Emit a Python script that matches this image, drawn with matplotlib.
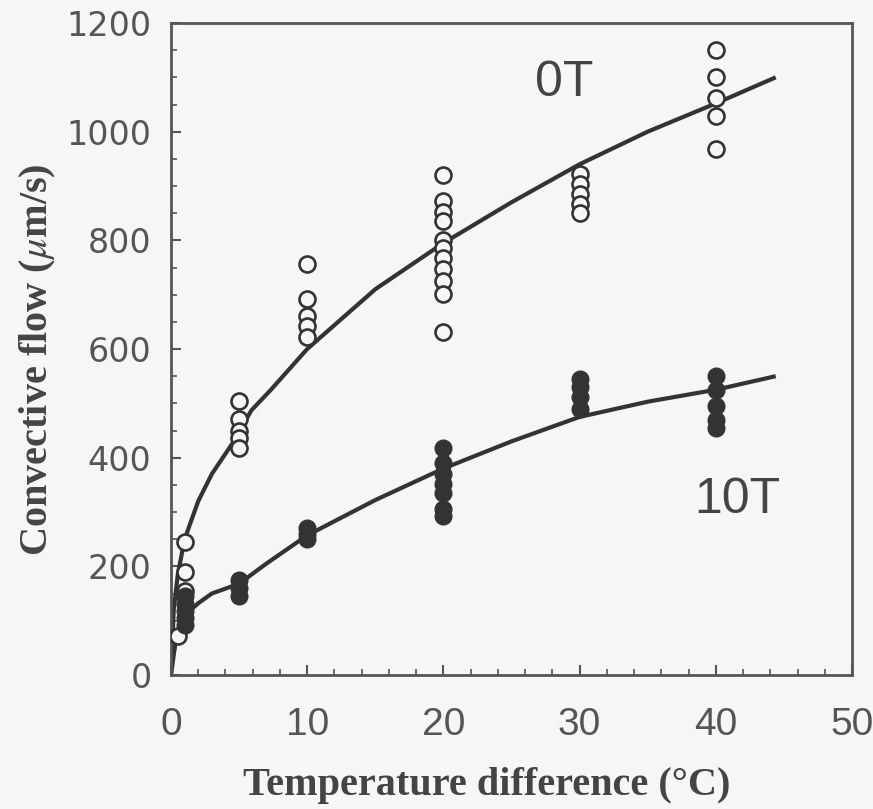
import numpy as np
import matplotlib
matplotlib.use('Agg')
import matplotlib.pyplot as plt
from matplotlib.ticker import MultipleLocator

plt.rcParams['mathtext.fontset'] = 'stix'

# measured points, 0 T (open circles)
x0T = [0.5, 1, 1, 1,
       5, 5, 5, 5, 5,
       10, 10, 10, 10, 10,
       20, 20, 20, 20, 20, 20, 20, 20, 20, 20, 20,
       30, 30, 30, 30, 30,
       40, 40, 40, 40, 40]
y0T = [72, 245, 190, 155,
       505, 472, 450, 436, 417,
       756, 692, 661, 642, 622,
       920, 872, 852, 835, 800, 785, 768, 748, 725, 702, 632,
       922, 903, 885, 867, 850,
       1150, 1100, 1062, 1028, 968]

# measured points, 10 T (filled circles)
x10T = [1, 1, 1, 1, 1,
        5, 5, 5,
        10, 10, 10,
        20, 20, 20, 20, 20, 20, 20,
        30, 30, 30, 30,
        40, 40, 40, 40, 40]
y10T = [145, 130, 118, 105, 92,
        175, 160, 145,
        270, 260, 250,
        418, 390, 370, 352, 335, 305, 292,
        545, 530, 512, 490,
        550, 525, 495, 470, 455]

# fitted curves
fit0T_x = [0, 0.2, 0.5, 1, 2, 3, 4.5, 5.9, 7.3, 10, 15, 20, 25, 30, 35, 40, 44.4]
fit0T_y = [0, 120, 185, 250, 320, 370, 426, 487, 524, 600, 710, 795, 870, 940, 1000, 1052, 1100]
fit10T_x = [0, 0.3, 1, 2, 3, 5, 7, 10, 15, 20, 25, 30, 35, 40, 44.4]
fit10T_y = [0, 55, 110, 132, 150, 168, 205, 257, 322, 380, 430, 475, 503, 525, 550]

bg = '#f6f6f4'
ink = '#333333'

fig = plt.figure(figsize=(8.73, 8.09), dpi=100, facecolor=bg)
ax = fig.add_axes([171/873, 1-675/809, (852-171)/873, (675-23)/809])
ax.set_facecolor(bg)

ax.plot(fit0T_x, fit0T_y, color=ink, lw=3, solid_capstyle='butt', zorder=2)
ax.plot(fit10T_x, fit10T_y, color=ink, lw=3, solid_capstyle='butt', zorder=2)
ax.plot(x0T, y0T, 'o', ms=11.5, mfc=bg, mec=ink, mew=1.9, zorder=3)
ax.plot(x10T, y10T, 'o', ms=12, mfc=ink, mec=ink, zorder=3)

ax.text(28.9, 1090, '0T', fontsize=36, family='Liberation Sans', color='#444444',
        ha='center', va='center')
ax.text(41.6, 322, '10T', fontsize=36, family='Liberation Sans', color='#444444',
        ha='center', va='center')

ax.set_xlim(0, 50)
ax.set_ylim(0, 1200)
ax.xaxis.set_major_locator(MultipleLocator(10))
ax.xaxis.set_minor_locator(MultipleLocator(2))
ax.yaxis.set_major_locator(MultipleLocator(200))
ax.yaxis.set_minor_locator(MultipleLocator(50))

for s in ax.spines.values():
    s.set_color('#555555')
    s.set_linewidth(2)

ax.tick_params(which='both', direction='in', color='#555555', top=False, right=False)
ax.tick_params(which='major', length=7, width=1.5)
ax.tick_params(which='minor', length=4, width=1.2)
ax.tick_params(axis='y', pad=14, labelsize=24, labelcolor='#555555')
ax.tick_params(axis='x', pad=23, labelsize=28, labelcolor='#555555')
for lab in ax.get_xticklabels():
    lab.set_family('Liberation Sans')

fig.text(38/873, 1-360/809, 'Convective flow ($\\mu$m/s)', rotation=90,
         fontsize=29, family='Liberation Serif', weight='bold', color='#444444',
         ha='center', va='center')
fig.text(487/873, 1-785/809, 'Temperature difference (°C)', fontsize=29,
         family='Liberation Serif', weight='bold', color='#444444',
         ha='center', va='center')

fig.savefig('out.png', dpi=100, facecolor=bg)
